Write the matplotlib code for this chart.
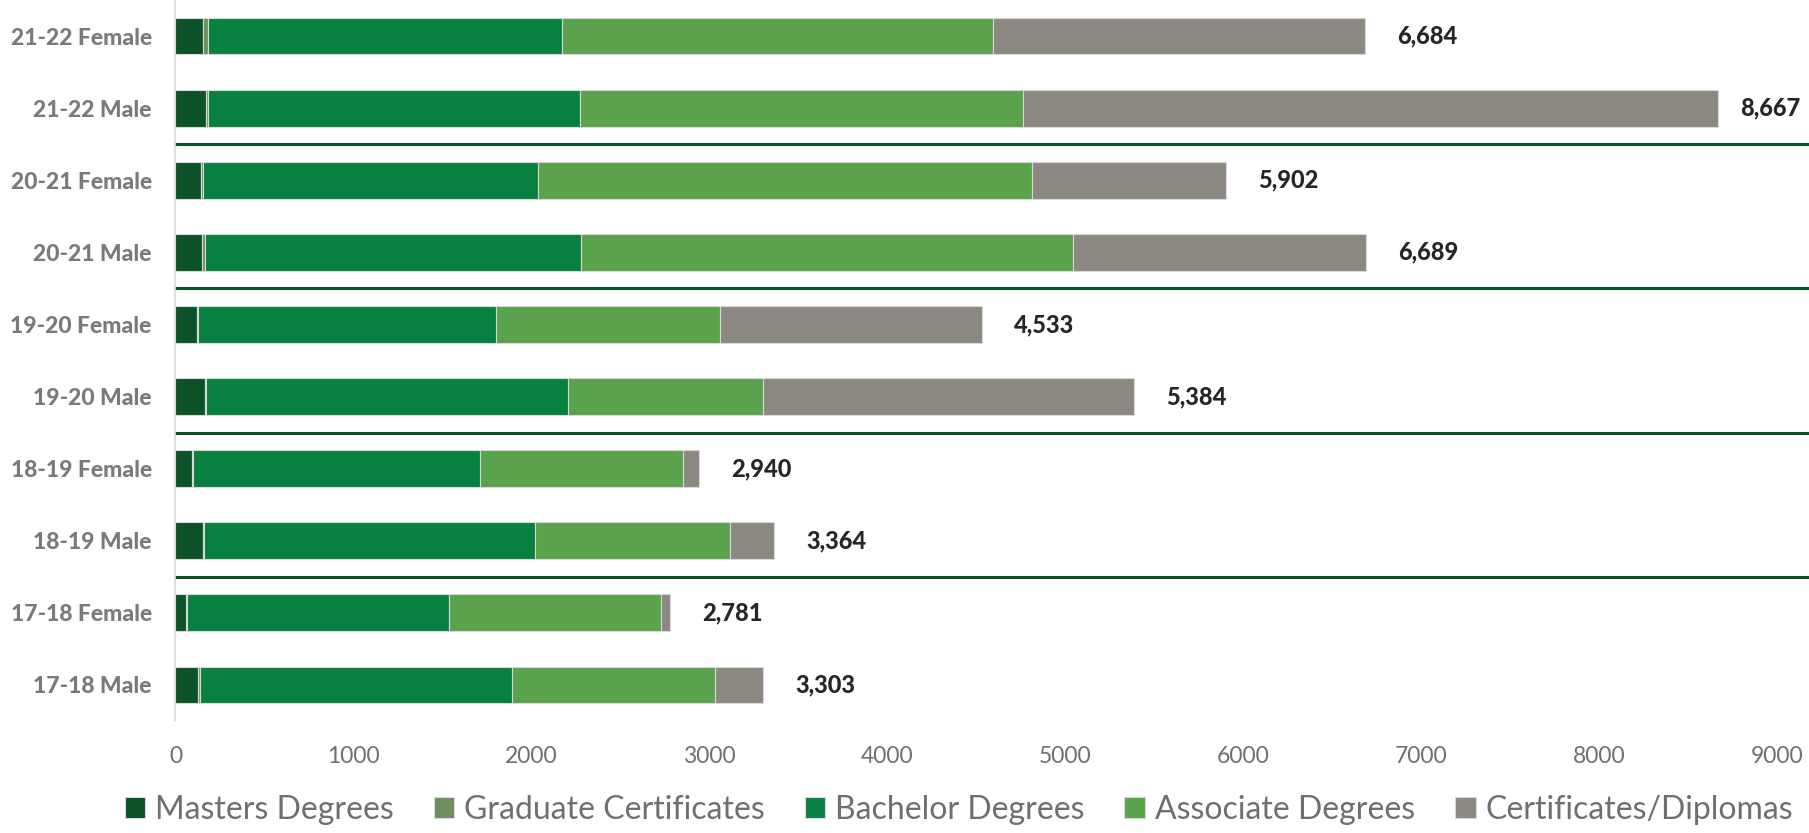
import numpy as np
import matplotlib
matplotlib.use('Agg')
import matplotlib.pyplot as plt

plt.rcParams['font.family'] = ['Lato', 'DejaVu Sans']

# Categories, top to bottom
groups = ['21-22 Female', '21-22 Male', '20-21 Female', '20-21 Male',
          '19-20 Female', '19-20 Male', '18-19 Female', '18-19 Male',
          '17-18 Female', '17-18 Male']

masters = [155, 173, 143, 150, 120, 165, 93, 155, 60, 129]
grad_certs = [30, 12, 12, 15, 8, 5, 7, 8, 6, 11]
bachelor = [1984, 2090, 1881, 2112, 1673, 2034, 1608, 1856, 1468, 1752]
associate = [2426, 2489, 2774, 2765, 1260, 1098, 1141, 1094, 1195, 1141]
certs = [2089, 3903, 1092, 1647, 1472, 2082, 91, 251, 52, 270]

totals = [6684, 8667, 5902, 6689, 4533, 5384, 2940, 3364, 2781, 3303]

series = [
    ('Masters Degrees', masters, '#0B5229'),
    ('Graduate Certificates', grad_certs, '#6F8F63'),
    ('Bachelor Degrees', bachelor, '#078040'),
    ('Associate Degrees', associate, '#5BA24C'),
    ('Certificates/Diplomas', certs, '#8B8882'),
]

fig = plt.figure(figsize=(18.09, 8.33), dpi=100)
ax = fig.add_axes([0.097, 0.1345, 0.903, 0.8655])

y = np.arange(len(groups))[::-1]
left = np.zeros(len(groups))
for name, vals, col in series:
    vals = np.array(vals, dtype=float)
    ax.barh(y, vals, left=left, height=0.51, color=col, label=name,
            edgecolor='#d8d8d8', linewidth=0.8)
    left += vals

# total labels at the end of each bar
for yi, tot in zip(y, totals):
    off = 16 if tot > 8000 else 23
    ax.annotate(f'{tot:,}', (tot, yi), xytext=(off, 0), textcoords='offset points',
                ha='left', va='center', fontsize=17, fontweight='black',
                color='#262626')

# separators between years
for k in range(1, 5):
    ax.axhline(y[2 * k] + 0.5, color='#0B5229', linewidth=2.2, xmin=0, xmax=1)

ax.set_xlim(0, 9177)
ax.set_ylim(-0.5, 9.5)
ax.set_xticks(np.arange(0, 9001, 1000))
ax.set_yticks(y)
ax.set_yticklabels(groups, fontsize=16.5, fontweight='black', color='#7a7a7a')
ax.tick_params(axis='x', length=0, pad=18, labelsize=16.5, labelcolor='#6f6f6f')
ax.tick_params(axis='y', length=0, pad=17)

for s in ['top', 'right', 'bottom']:
    ax.spines[s].set_visible(False)
ax.spines['left'].set_color('#d9d9d9')
ax.spines['left'].set_linewidth(1.2)

fig.legend(loc='center', bbox_to_anchor=(0.53, 0.028), ncol=5, frameon=False,
           fontsize=23, handlelength=0.65, handleheight=0.65, handletextpad=0.3,
           columnspacing=1.25, labelcolor='#6f6f6f', borderaxespad=0)

fig.savefig('out.png', dpi=100)
